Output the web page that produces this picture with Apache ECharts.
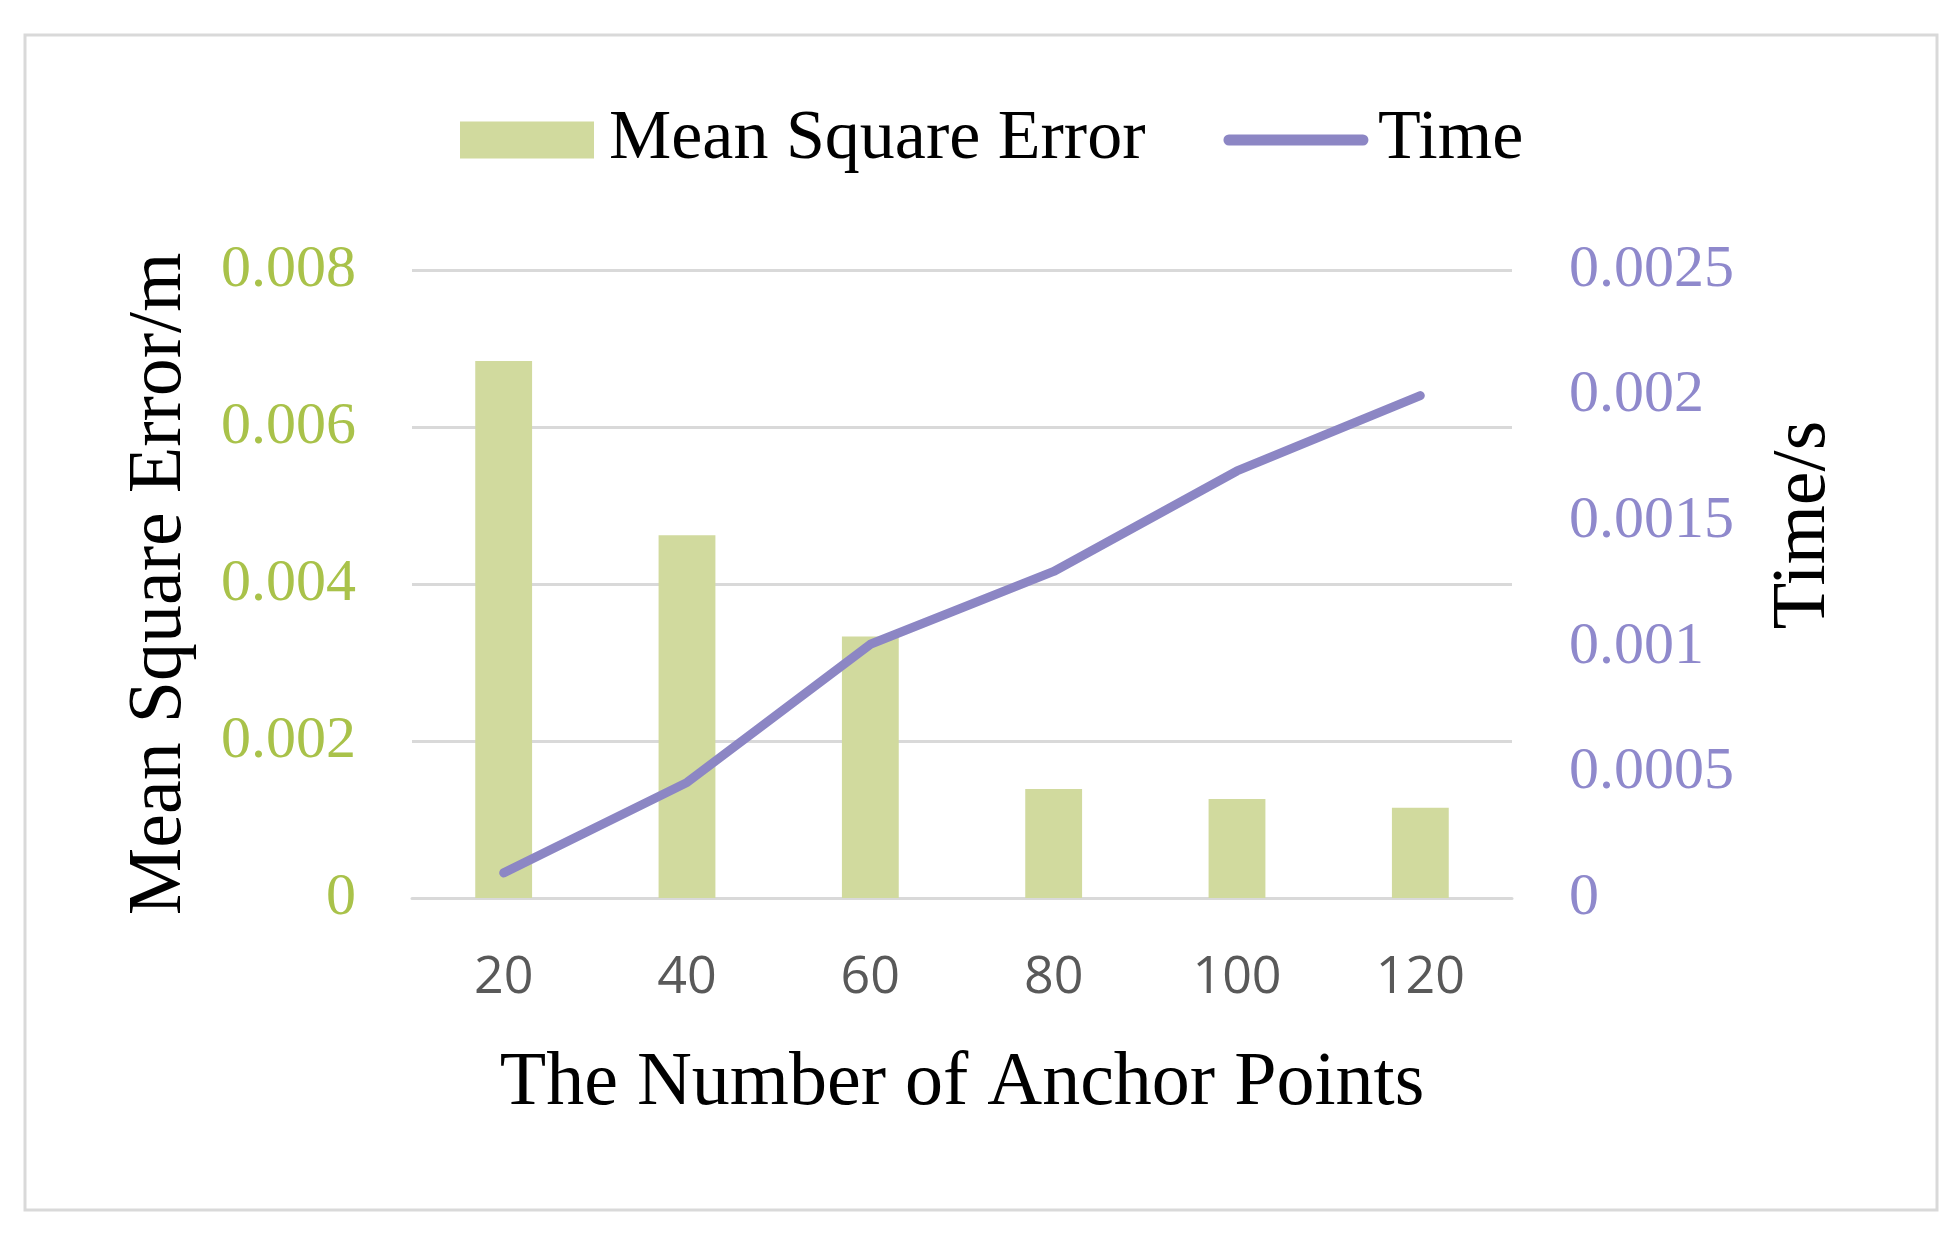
<!DOCTYPE html>
<html>
<head>
<meta charset="utf-8">
<script src="https://cdn.jsdelivr.net/npm/echarts@6/dist/echarts.min.js"></script>
<style>
html, body { margin: 0; padding: 0; background: #fff; }
#chart { width: 1960px; height: 1248px; }
</style>
</head>
<body>
<div id="chart"></div>
<script>
// data
var anchorPoints = ['20', '40', '60', '80', '100', '120'];
var mseValues = [0.00684, 0.00462, 0.00333, 0.00139, 0.00126, 0.00115];
var timeValues = [0.0001, 0.00046, 0.00101, 0.0013, 0.0017, 0.002];

var chart = echarts.init(document.getElementById('chart'));
var serif = '"Liberation Serif", "Times New Roman", serif';

var option = {
    backgroundColor: '#fff',
    animation: false,
    // outer frame
    graphic: [{
        type: 'rect',
        shape: { x: 25, y: 35, width: 1912, height: 1175 },
        style: { fill: 'none', stroke: '#d9d9d9', lineWidth: 3 }
    }],
    legend: {
        top: 100,
        left: 455,
        itemWidth: 134,
        itemHeight: 37,
        itemGap: 78,
        textStyle: { fontFamily: serif, fontSize: 70, color: '#000', padding: [0, 0, 0, 10] },
        lineStyle: { width: 11, cap: 'round' },
        data: [
            { name: 'Mean Square Error', icon: 'rect' },
            { name: 'Time', itemStyle: { opacity: 0 } }
        ]
    },
    grid: { left: 412, right: 448, top: 270, bottom: 350 },
    xAxis: {
        type: 'category',
        data: anchorPoints,
        name: 'The Number of Anchor Points',
        nameLocation: 'middle',
        nameGap: 148,
        nameTextStyle: { fontFamily: serif, fontSize: 76, color: '#000' },
        axisLine: { lineStyle: { color: '#d9d9d9', width: 3 } },
        axisTick: { show: false },
        axisLabel: { fontFamily: '"Open Sans", sans-serif', fontSize: 52, color: '#595959', margin: 54 }
    },
    yAxis: [{
        type: 'value',
        min: 0,
        max: 0.008,
        interval: 0.002,
        name: 'Mean Square Error/m',
        nameLocation: 'middle',
        nameGap: 214,
        nameTextStyle: { fontFamily: serif, fontSize: 76, color: '#000' },
        axisLine: { show: false },
        axisTick: { show: false },
        axisLabel: { fontFamily: serif, fontSize: 60, color: '#a9c24a', margin: 56 },
        splitLine: { lineStyle: { color: '#d9d9d9', width: 3 } }
    }, {
        type: 'value',
        min: 0,
        max: 0.0025,
        interval: 0.0005,
        name: 'Time/s',
        nameLocation: 'middle',
        nameGap: 254,
        nameRotate: 90,
        nameTextStyle: { fontFamily: serif, fontSize: 76, color: '#000', padding: [0, 0, 0, 118] },
        axisLine: { show: false },
        axisTick: { show: false },
        axisLabel: { fontFamily: serif, fontSize: 60, color: '#8f89cc', margin: 57 },
        splitLine: { show: false }
    }],
    series: [{
        name: 'Mean Square Error',
        type: 'bar',
        data: mseValues,
        barWidth: '31%',
        itemStyle: { color: '#d1da9e' }
    }, {
        name: 'Time',
        type: 'line',
        yAxisIndex: 1,
        data: timeValues,
        symbol: 'none',
        lineStyle: { color: '#8c86c4', width: 9, cap: 'round', join: 'round' },
        itemStyle: { color: '#8c86c4' }
    }]
};

chart.setOption(option);
</script>
</body>
</html>
